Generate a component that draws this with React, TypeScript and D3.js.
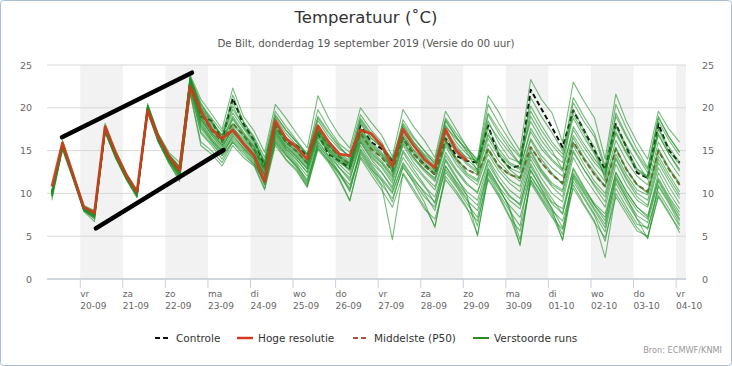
import React from 'react';
import * as d3 from 'd3';

// ---------- DATA ----------
// 6-hourly values, first point 19-09 08:00 (local time), last 04-10 02:00
const START = Date.UTC(2019, 8, 19, 8);
const STEP_MS = 6 * 3600 * 1000;

const controle = [
  10.0, 15.5, 12.0, 8.3, 7.8, 17.5, 14.5, 12.0, 10.0, 19.8, 16.5, 14.2, 12.6,
  23.0, 19.0, 18.5, 16.2, 21.1, 18.1, 16.2, 13.2, 17.9, 16.0, 15.6, 14.4, 17.0, 14.6, 13.8, 13.0, 17.9,
  16.0, 15.2, 13.8, 16.4, 14.6, 13.4, 12.2, 16.4, 14.4, 13.8, 13.6, 17.9, 14.4, 13.0, 13.2,
  22.1, 19.9, 17.7, 15.4, 19.7, 17.4, 15.0, 12.8, 18.1, 15.4, 12.4, 11.8, 18.1, 15.0, 13.6,
];

const hogeResolutie = [
  10.8, 15.9, 12.1, 8.4, 7.7, 17.8, 14.7, 12.1, 10.2, 19.7, 16.6, 14.3, 12.7,
  22.5, 19.6, 17.5, 16.4, 17.4, 15.8, 14.4, 11.4, 18.5, 16.4, 15.4, 14.0, 17.9, 16.0, 14.6, 14.4, 17.4,
  17.0, 15.6, 13.2, 17.5, 15.6, 14.0, 13.0, 17.5, 15.0, 13.8,
];

const middelste = [
  10.0, 15.7, 12.0, 8.2, 7.5, 17.6, 14.5, 12.0, 10.0, 20.0, 16.5, 14.2, 12.6,
  23.2, 19.3, 17.4, 16.0, 18.2, 16.8, 15.2, 12.8, 17.8, 16.0, 14.9, 13.5, 17.4, 15.6, 14.3, 13.4, 17.0,
  15.2, 14.2, 12.6, 16.5, 14.6, 13.2, 12.2, 16.2, 14.0, 12.8, 12.2, 15.2, 13.2, 12.2, 11.8,
  15.4, 13.6, 12.2, 11.2, 16.0, 14.0, 12.2, 10.8, 15.2, 12.8, 11.0, 10.2, 15.0, 12.8, 11.0,
];

const verstoordeRuns = [
  [10.2,15.8,12.2,8.4,7.9,17.7,14.6,12.1,10.1,20.1,16.7,14.4,12.9,
   23.4,20.2,18.6,16.5,21.5,18.4,16.4,13.4,18.3,16.3,15.7,14.5,17.6,15.2,14.0,13.2,18.4,
   16.5,15.4,14.0,17.0,15.1,13.8,12.8,17.2,15.3,14.2,13.8,18.5,15.9,14.1,13.6,21.2,19.0,17.1,15.0,19.2,17.0,14.8,12.6,17.8,15.3,12.9,12.0,17.5,14.9,13.4],
  [10.0,15.5,11.9,8.1,7.3,17.4,14.3,11.8,9.8,19.8,16.3,14.0,12.3,
   22.9,18.6,17.0,15.6,17.5,16.2,14.8,12.2,17.2,15.5,14.3,12.8,16.9,15.0,13.8,12.6,16.2,
   14.4,13.2,11.5,15.6,13.6,12.0,10.8,14.8,12.8,11.2,10.0,13.8,11.5,9.8,8.6,13.5,11.2,9.4,7.6,13.0,10.8,8.6,6.8,12.5,10.2,8.4,7.2,12.4,10.1,8.2],
  [9.2,15.1,11.6,7.9,6.7,17.1,14.1,11.6,9.5,19.4,16.0,13.5,11.6,
   21.8,16.0,15.0,13.6,16.0,14.5,13.4,10.6,15.9,14.0,12.8,10.8,15.3,13.8,11.8,9.2,14.3,
   12.6,10.8,4.6,12.4,10.5,8.5,6.2,12.0,10.3,8.4,5.2,11.8,9.8,7.4,4.0,11.5,9.4,7.5,4.6,11.0,8.8,6.8,2.5,10.0,8.0,6.0,4.8,9.8,7.8,5.4],
  [9.5,15.3,11.8,8.0,7.0,17.2,14.2,11.7,9.6,19.6,16.2,13.8,11.9,
   22.2,17.2,15.8,14.4,16.8,15.3,14.0,11.0,16.6,14.8,13.4,11.4,16.0,14.4,12.5,10.2,15.0,
   13.2,11.5,9.0,13.2,11.2,9.0,6.0,12.5,10.8,8.8,7.2,13.0,10.8,8.2,3.9,12.0,10.2,8.3,6.0,11.8,9.6,7.6,5.5,11.2,9.0,7.0,5.8,10.8,8.8,6.4],
  [9.8,15.6,12.0,8.2,7.4,17.5,14.4,11.9,9.9,19.9,16.4,14.1,12.4,
   23.0,18.8,16.8,15.2,17.8,16.0,14.6,12.0,17.0,15.2,14.0,12.4,16.5,14.8,13.0,11.5,16.0,
   14.0,12.5,10.5,14.8,12.8,11.0,8.8,14.0,12.0,9.8,5.0,12.2,10.0,8.0,6.2,12.8,10.5,8.2,4.5,12.0,10.0,8.0,6.0,11.8,9.5,7.0,4.7,11.0,9.0,6.8],
  [10.4,16.2,12.5,8.6,8.0,18.2,15.0,12.4,10.4,20.5,17.0,14.8,13.6,
   23.8,21.0,19.3,17.5,22.3,19.0,17.3,14.8,20.4,18.8,17.0,15.3,21.4,18.8,16.8,15.3,20.0,
   18.3,16.8,14.3,19.8,17.8,16.2,14.2,19.6,17.5,15.4,13.2,17.0,14.6,12.8,11.8,16.2,14.0,12.4,11.0,16.5,14.2,12.5,10.8,15.4,12.8,11.0,10.0,15.2,13.0,11.2],
  [10.1,15.7,12.1,8.3,7.6,17.6,14.5,12.0,10.0,20.0,16.6,14.3,12.8,
   23.3,19.6,17.8,16.2,18.8,17.0,15.4,13.0,18.0,16.2,15.0,13.6,17.5,15.7,14.4,13.5,17.3,
   15.6,14.5,13.0,17.2,15.5,14.4,13.2,17.8,16.4,15.2,14.0,21.4,19.5,17.0,15.0,23.3,21.0,19.4,16.0,23.0,20.8,18.8,14.0,21.6,18.4,16.0,14.0,19.6,17.5,16.0],
  [10.0,15.7,12.0,8.2,7.5,17.6,14.5,12.0,10.0,20.0,16.5,14.2,12.6,
   23.2,19.3,17.4,16.0,18.2,16.8,15.2,12.8,17.8,16.0,14.9,13.5,17.4,15.6,14.3,13.4,17.0,
   15.2,14.2,12.6,16.5,14.6,13.2,12.2,16.2,14.0,12.8,12.2,15.2,13.2,12.2,11.8,15.4,13.6,12.2,11.2,16.0,14.0,12.2,10.8,15.2,12.8,11.0,10.2,15.0,12.8,11.0],
  [9.9,15.4,11.8,8.1,7.4,17.3,14.3,11.8,9.8,19.7,16.2,13.9,12.2,
   22.8,18.4,16.5,15.0,17.2,15.8,14.4,12.3,17.3,15.4,14.2,12.9,16.8,15.0,13.6,12.8,16.4,
   14.6,13.5,11.8,15.8,14.0,12.6,11.4,15.5,13.4,12.0,11.0,14.6,12.6,11.2,10.2,14.4,12.4,10.8,9.6,14.8,12.8,10.8,9.0,14.0,11.6,9.6,8.6,13.6,11.4,9.4],
  [10.3,15.9,12.3,8.5,7.8,17.9,14.8,12.3,10.3,20.3,16.9,14.6,13.1,
   23.6,20.0,18.2,16.8,19.4,17.6,15.8,13.6,18.8,17.0,15.6,14.2,18.5,16.6,15.2,14.4,18.2,
   16.4,15.4,13.8,17.8,16.0,14.6,13.6,18.0,16.0,14.6,13.5,17.6,15.2,13.6,13.0,17.2,15.2,13.8,12.6,17.8,15.8,14.0,12.4,17.0,14.6,12.6,11.8,16.8,14.6,12.8],
  [10.0,15.6,12.0,8.2,7.4,17.5,14.4,11.9,9.9,19.9,16.3,14.0,12.0,
   21.6,15.6,14.6,13.2,15.6,14.2,13.2,10.4,15.6,13.9,12.6,10.7,15.1,13.6,11.6,9.1,14.1,
   12.2,10.4,8.4,12.2,10.2,8.2,7.0,11.6,10.0,8.2,6.8,11.6,9.6,7.2,5.6,11.2,9.2,7.2,5.8,10.6,8.6,6.6,4.8,9.6,7.6,5.6,5.0,9.6,7.6,5.8],
  [9.7,15.4,11.9,8.0,7.2,17.3,14.2,11.8,9.7,19.6,16.1,13.7,11.8,
   22.4,17.8,16.2,14.8,16.6,15.4,14.0,11.6,16.8,15.0,13.6,12.0,16.2,14.4,13.0,11.8,15.6,
   13.6,12.4,10.8,14.2,12.4,10.8,9.6,13.8,11.8,10.2,9.2,13.4,11.4,9.6,8.8,13.2,11.0,9.0,8.2,12.8,10.6,8.8,7.6,12.4,10.2,8.4,7.4,11.8,9.6,7.8],
  [10.2,15.8,12.1,8.3,7.7,17.8,14.7,12.1,10.1,20.2,16.8,14.5,13.0,
   23.5,20.4,18.8,17.2,20.6,18.4,16.6,14.2,19.6,17.8,16.2,14.6,19.8,17.6,15.8,14.8,19.2,
   17.4,16.0,13.4,18.6,16.6,15.0,13.8,18.8,17.0,15.4,13.8,19.4,17.4,15.6,14.2,18.4,16.2,14.6,13.6,20.6,18.4,16.6,12.8,19.0,16.6,14.4,12.4,18.4,16.2,14.4],
  [9.9,15.5,11.9,8.1,7.3,17.4,14.3,11.9,9.9,19.8,16.4,14.1,12.5,
   23.0,18.9,17.1,15.6,17.6,16.4,15.0,12.6,17.6,15.8,14.6,13.2,17.0,15.4,14.0,13.0,16.8,
   15.0,13.8,12.2,16.2,14.2,12.8,11.8,16.0,14.2,12.4,11.6,15.8,13.8,12.4,11.4,15.0,12.8,11.2,10.4,15.6,13.4,11.4,10.0,14.6,12.2,10.4,9.8,14.4,12.2,10.2],
  [9.6,15.2,11.7,8.0,7.1,17.2,14.1,11.6,9.6,19.5,16.0,13.6,11.4,
   22.0,17.0,15.6,14.0,16.2,15.0,13.6,11.2,16.4,14.6,13.2,11.2,15.8,14.0,12.2,10.4,14.8,
   13.0,11.0,9.4,13.0,11.4,9.6,8.4,12.8,11.0,9.2,8.0,12.4,10.4,8.6,7.2,12.0,10.0,8.0,6.8,11.4,9.4,7.4,4.4,10.6,8.4,6.4,6.0,10.2,8.2,6.2],
  [10.1,15.7,12.0,8.3,7.6,17.6,14.6,12.0,10.0,20.1,16.6,14.3,12.7,
   23.4,19.8,18.0,16.4,19.0,17.2,15.6,13.2,18.4,16.6,15.3,13.9,18.0,16.2,14.8,13.8,17.6,
   16.0,14.8,13.2,17.4,15.6,14.0,13.0,17.4,15.6,14.0,12.8,18.2,16.4,14.8,13.4,19.6,17.4,15.6,14.2,18.8,16.6,14.6,12.0,18.0,15.6,13.6,11.6,17.6,15.4,13.6],
  [9.8,15.5,11.9,8.1,7.3,17.4,14.4,11.8,9.8,19.7,16.2,13.9,12.1,
   22.6,18.2,16.4,14.9,17.0,15.6,14.2,12.0,17.0,15.2,13.9,12.5,16.6,14.8,13.4,12.2,16.0,
   14.2,13.0,11.2,15.0,13.2,11.8,10.4,14.4,12.6,11.0,10.2,14.0,12.0,10.4,9.4,14.0,11.8,10.0,9.0,14.2,12.0,10.2,8.4,13.4,11.0,9.2,8.4,13.0,10.8,8.8],
  [10.2,15.9,12.2,8.4,7.8,17.8,14.7,12.2,10.2,20.3,16.8,14.5,13.2,
   23.6,20.6,18.4,16.8,19.8,18.0,16.2,13.8,19.0,17.4,16.0,14.4,18.8,17.0,15.4,14.2,18.6,
   16.8,15.6,14.0,18.2,16.4,15.0,13.4,18.4,16.6,15.0,13.6,20.4,18.2,16.2,14.4,20.2,18.0,16.0,14.6,21.2,19.0,17.0,13.2,20.4,17.6,15.2,13.0,18.8,16.6,14.8],
  [9.9,15.5,11.9,8.1,7.4,17.5,14.4,11.9,9.9,19.9,16.4,14.0,12.4,
   22.8,18.0,16.2,14.6,16.4,15.2,13.8,11.0,16.2,14.5,13.0,11.0,15.6,14.2,12.4,10.6,15.2,
   13.4,11.8,10.2,13.6,11.8,10.0,8.0,13.2,11.2,9.4,6.2,12.6,10.6,8.4,4.6,11.6,9.6,7.8,5.2,12.2,10.2,8.2,6.4,11.6,9.4,7.4,6.6,11.4,9.2,7.0],
  [10.0,15.6,12.0,8.2,7.5,17.5,14.5,12.0,10.0,20.0,16.5,14.2,12.6,
   23.1,19.0,17.2,15.8,18.0,16.6,15.0,12.6,17.6,16.0,14.8,13.4,17.2,15.6,14.2,13.2,17.2,
   15.4,14.4,12.8,16.8,15.0,13.6,12.6,16.6,14.8,13.4,12.4,16.4,14.4,13.0,12.4,16.4,14.4,13.0,12.0,16.8,14.8,13.0,11.4,16.2,13.8,12.0,11.0,16.0,13.8,12.0],
  [9.7,15.3,11.8,8.0,7.2,17.3,14.2,11.7,9.7,19.6,16.1,13.8,12.0,
   22.5,17.6,16.0,14.4,16.0,14.8,13.4,11.4,16.0,14.4,13.2,11.6,15.4,13.8,12.4,11.0,14.6,
   12.8,11.6,10.0,13.4,11.6,10.2,9.0,13.2,11.4,9.8,8.6,12.8,10.8,9.2,8.2,12.6,10.6,8.8,7.6,12.4,10.4,8.6,7.2,12.0,9.8,8.0,7.0,11.6,9.4,7.4],
  [10.1,15.8,12.1,8.3,7.7,17.7,14.6,12.1,10.1,20.2,16.7,14.4,12.8,
   23.5,20.0,18.3,16.6,20.2,17.8,16.0,13.6,19.2,17.4,16.0,14.6,19.0,17.2,15.6,14.0,18.8,
   17.0,15.4,12.4,18.0,16.0,14.4,12.6,18.6,16.6,14.8,12.6,19.2,17.0,15.2,13.4,19.0,16.8,15.0,12.8,19.8,17.4,15.4,11.6,19.4,16.8,14.6,12.8,19.0,16.6,14.8],
  [9.8,15.6,12.0,8.2,7.4,17.5,14.4,11.9,9.9,19.9,16.4,14.1,12.4,
   22.9,18.6,16.8,15.4,17.4,16.0,14.6,12.2,17.4,15.6,14.4,13.0,17.2,15.2,13.8,12.8,16.6,
   14.8,13.6,12.0,16.0,14.2,12.8,11.6,15.8,13.8,12.2,11.4,15.0,13.0,11.6,10.8,14.8,12.6,11.0,10.2,15.0,12.8,11.0,9.6,14.2,11.8,10.0,9.2,14.0,11.8,9.8],
  [10.0,15.6,12.0,8.2,7.5,17.6,14.5,12.0,10.0,20.0,16.6,14.3,12.7,
   23.2,19.4,17.6,16.2,18.6,17.0,15.4,13.0,18.2,16.4,15.2,13.8,17.8,16.0,14.6,13.6,17.4,
   15.8,14.6,13.0,16.6,14.8,13.4,12.4,17.0,15.0,13.6,12.6,16.8,14.8,13.4,12.8,17.6,15.6,14.0,12.8,17.4,15.4,13.6,12.2,17.2,14.8,12.8,11.8,17.0,14.6,12.6],
];

const tickWeekdays = ['vr', 'za', 'zo', 'ma', 'di', 'wo', 'do', 'vr', 'za', 'zo', 'ma', 'di', 'wo', 'do', 'vr'];
const tickDates = ['20-09', '21-09', '22-09', '23-09', '24-09', '25-09', '26-09', '27-09', '28-09', '29-09', '30-09', '01-10', '02-10', '03-10', '04-10'];
const yTicks = [0, 5, 10, 15, 20, 25];
const legendLabels = ['Controle', 'Hoge resolutie', 'Middelste (P50)', 'Verstoorde runs'];
// hand-drawn annotation lines: [hours after first point, °C]
const annotationUpper = [[5.7, 16.55], [79, 24.1]];
const annotationLower = [[24.8, 5.92], [96.8, 15.07]];

const TITLE = 'Temperatuur (˚C)';
const SUBTITLE = 'De Bilt, donderdag 19 september 2019 (Versie do 00 uur)';
const CREDITS = 'Bron: ECMWF/KNMI';

// ---------- LAYOUT ----------
const W = 732, H = 366;
const PL = 47, PR = 686, PT = 65, PB = 279;
const FONT = '"DejaVu Sans", Verdana, sans-serif';
const DAY = 24 * 3600 * 1000;
const COL = {
  controle: '#111111',
  hres: '#d23a1c',
  p50: '#a0583a',
  runs: '#22922a',
};

export default function App() {
  const x = d3.scaleUtc()
    .domain([Date.UTC(2019, 8, 19, 5, 15), Date.UTC(2019, 9, 4, 5, 35)])
    .range([PL, PR]);
  const y = d3.scaleLinear().domain([0, 25]).range([PB, PT]);
  const t = (i: number) => new Date(START + i * STEP_MS);
  const line = d3.line<number>().x((_, i) => x(t(i))).y((d) => y(d));
  const annLine = d3.line<number[]>().x((d) => x(new Date(START + d[0] * 3600 * 1000))).y((d) => y(d[1]));

  const tickTimes = tickDates.map((_, k) => new Date(Date.UTC(2019, 8, 20) + k * DAY));
  const bands = tickTimes
    .map((d, k) => ({ k, x0: Math.max(PL, x(d)), x1: Math.min(PR, x(new Date(+d + DAY))) }))
    .filter((b) => b.k % 2 === 0 && b.x1 > b.x0);

  const legendX = [155, 237, 353, 473];

  return (
    <svg width={W} height={H} style={{ position: 'absolute', left: 0, top: 0, fontFamily: FONT }}>
      <rect x={0.5} y={0.5} width={W - 1} height={H - 1} rx={3} fill="#fff" stroke="#a9bfd3" />
      <text x={W / 2} y={23} textAnchor="middle" fontSize={16.5} fill="#333">{TITLE}</text>
      <text x={W / 2} y={47} textAnchor="middle" fontSize={10.3} fill="#555">{SUBTITLE}</text>

      {bands.map((b) => (
        <rect key={b.k} x={b.x0} y={PT} width={b.x1 - b.x0} height={PB - PT} fill="#f2f2f2" />
      ))}
      {yTicks.map((v) => (
        <g key={v}>
          <line x1={PL} x2={PR} y1={y(v)} y2={y(v)} stroke="#d9d9d9" strokeWidth={1} />
          <text x={32} y={y(v) + 3.5} textAnchor="end" fontSize={9.5} fill="#666">{v}</text>
          <text x={702} y={y(v) + 3.5} textAnchor="start" fontSize={9.5} fill="#666">{v}</text>
        </g>
      ))}
      <line x1={PL} x2={PR} y1={PB} y2={PB} stroke="#b4c0cc" strokeWidth={1} />
      {tickTimes.map((d, k) => (
        <g key={k}>
          <line x1={x(d)} x2={x(d)} y1={PB} y2={PB + 9} stroke="#c8d0d8" />
          <text x={x(d)} y={296.5} fontSize={9} fill="#666">{tickWeekdays[k]}</text>
          <text x={x(d)} y={309} fontSize={9} fill="#666">{tickDates[k]}</text>
        </g>
      ))}

      <g fill="none" strokeLinejoin="round">
        <path d={line(controle) || ''} stroke={COL.controle} strokeWidth={2} strokeDasharray="5,3" />
        <path d={line(middelste) || ''} stroke={COL.p50} strokeWidth={2} strokeDasharray="5,3" />
        {verstoordeRuns.map((run, r) => (
          <path key={r} d={line(run) || ''} stroke={COL.runs} strokeWidth={1.1} strokeOpacity={0.62} />
        ))}
        <path d={line(hogeResolutie) || ''} stroke={COL.hres} strokeWidth={2.8} strokeOpacity={0.9} />
      </g>

      <g stroke="#000" strokeWidth={4.5} strokeLinecap="round" fill="none">
        <path d={annLine(annotationUpper) || ''} />
        <path d={annLine(annotationLower) || ''} />
      </g>

      {legendLabels.map((lab, k) => {
        const lx = legendX[k];
        const sym =
          k === 0 ? <line x1={lx} x2={lx + 16} y1={338} y2={338} stroke={COL.controle} strokeWidth={2} strokeDasharray="5,3" /> :
          k === 1 ? <line x1={lx} x2={lx + 16} y1={338} y2={338} stroke={COL.hres} strokeWidth={2.5} /> :
          k === 2 ? <line x1={lx} x2={lx + 16} y1={338} y2={338} stroke={COL.p50} strokeWidth={2} strokeDasharray="5,3" /> :
          <line x1={lx} x2={lx + 16} y1={338} y2={338} stroke="#2a8a2a" strokeWidth={2} />;
        return (
          <g key={lab}>
            {sym}
            <text x={lx + 21} y={342} fontSize={10.5} fill="#333">{lab}</text>
          </g>
        );
      })}
      <text x={722} y={353} textAnchor="end" fontSize={8.2} fill="#999">{CREDITS}</text>
    </svg>
  );
}
